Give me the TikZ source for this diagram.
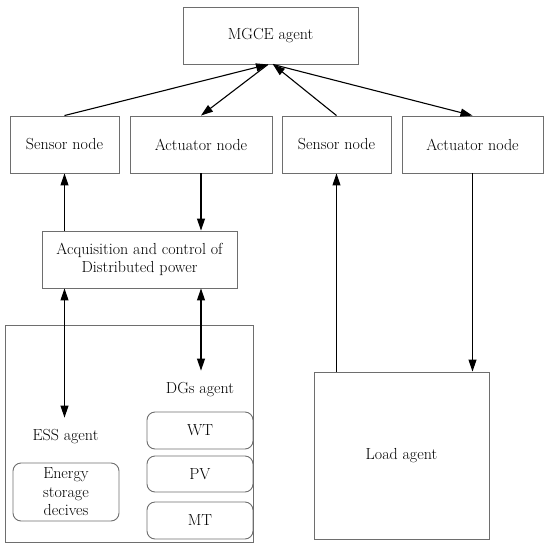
\documentclass[tikz,border=0pt]{standalone}
\usetikzlibrary{arrows.meta,calc}
\definecolor{boxgray}{HTML}{6E6E6E}
\begin{document}
\begin{tikzpicture}[x=1pt,y=-1pt,
  every node/.style={font=\fontsize{16}{18.5}\selectfont, text=black},
  box/.style={draw=boxgray, line width=0.9pt, rectangle, inner sep=0pt, align=center, minimum height=57pt},
  rbox/.style={draw=boxgray, line width=0.9pt, rectangle, rounded corners=8pt, inner sep=0pt, align=center, minimum width=106pt},
  lbl/.style={inner xsep=0pt, inner ysep=12pt},
  conn/.style={line width=1.1pt, draw=black, -{Triangle[length=12pt,width=8pt]}},
  bconn/.style={line width=1.1pt, draw=black, {Triangle[length=12pt,width=8pt]}-{Triangle[length=12pt,width=8pt]}}
]
\useasboundingbox (0,0) rectangle (548,550);

\node[box, minimum width=175pt] (mgce) at (270.5,35.5) {MGCE agent};
\node[box, minimum width=109pt] (s1) at (64.5,144.5) {Sensor node};
\node[box, minimum width=142pt] (a1) at (201,144.5) {Actuator node};
\node[box, minimum width=109pt] (s2) at (336.5,144.5) {Sensor node};
\node[box, minimum width=141pt] (a2) at (472.5,144.5) {Actuator node};
\node[box, minimum width=195pt] (acq) at (139.5,259.5) {Acquisition and control of\\Distributed power};

\node[box, minimum width=248pt, minimum height=217pt] (dist) at (129,433.5) {};
\node[lbl] (ess) at (65.5,437) {ESS agent};
\node[lbl] (dgs) at (200,390) {DGs agent};
\node[rbox, minimum height=58pt] (energy) at (66,492) {Energy\\storage\\decives};
\node[rbox, minimum height=37pt] (wt) at (200,430.5) {WT};
\node[rbox, minimum height=36pt] (pv) at (200,474) {PV};
\node[rbox, minimum height=37pt] (mt) at (200,520.5) {MT};

\node[box, minimum width=175pt, minimum height=167pt] (load) at (401.5,455.5) {Load agent};

% top connectors
\draw[conn] (s1.north) -- ([xshift=-2.5pt]mgce.south);
\draw[conn] ([xshift=-2.5pt]mgce.south) -- (a1.north);
\draw[conn] (s2.north) -- ([xshift=2.5pt]mgce.south);
\draw[conn] ([xshift=2.5pt]mgce.south) -- (a2.north);

% middle connectors
\draw[conn] (s1.south |- acq.north) -- (s1.south);
\draw[conn] (a1.south) -- (a1.south |- acq.north);

% bottom connectors
\draw[bconn] (s1.south |- acq.south) -- (s1.south |- ess.north);
\draw[bconn] (a1.south |- acq.south) -- (a1.south |- dgs.north);

% load connectors
\draw[conn] (s2.south |- load.north) -- (s2.south);
\draw[conn] (a2.south) -- (a2.south |- load.north);
\end{tikzpicture}
\end{document}
